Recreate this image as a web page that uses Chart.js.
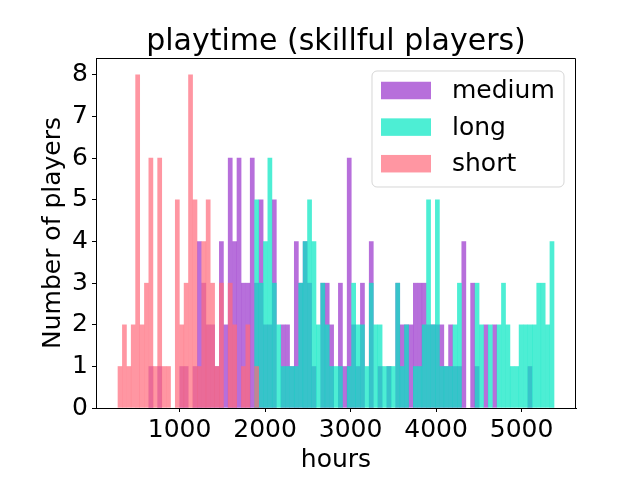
<!DOCTYPE html>
<html>
<head>
<meta charset="utf-8">
<script src="https://cdn.jsdelivr.net/npm/chart.js@4.4.0/dist/chart.umd.min.js"></script>
<style>
body { margin: 0; background: #fff; }
canvas { display: block; }
</style>
</head>
<body>
<canvas id="myChart" width="640" height="480"></canvas>
<script>
// shared histogram bins (hours)
const binStart = 278;
const binWidth = 51.55;

// counts per bin, each series starting at its first non-empty bin
const mediumFirstBin = 7;
const mediumCounts = [1, 0, 1, 0, 0, 0, 0, 1, 1, 0, 1, 4, 3, 2, 2, 1, 4, 2, 6, 4,
	6, 3, 3, 6, 3, 5, 2, 2, 5, 0, 2, 2, 1, 4, 3, 4, 3, 1, 0, 3,
	3, 2, 0, 3, 1, 6, 2, 1, 3, 0, 4, 0, 1, 0, 1, 0, 3, 2, 2, 2,
	3, 3, 3, 2, 2, 2, 2, 1, 2, 1, 1, 4, 0, 3, 1, 0, 2, 0, 2, 0,
	0, 0, 0, 0, 0, 0, 1];

const longFirstBin = 31;
const longCounts = [5, 3, 4, 6, 3, 2, 1, 1, 1, 1, 3, 4, 5, 4, 2, 3, 2, 1, 1, 1,
	0, 1, 3, 2, 2, 1, 3, 2, 2, 1, 1, 1, 3, 1, 2, 0, 1, 1, 2, 5,
	2, 5, 1, 1, 1, 2, 3, 0, 0, 0, 3, 2, 0, 2, 0, 2, 3, 2, 1, 1,
	2, 2, 2, 2, 3, 3, 2, 4];

const shortFirstBin = 0;
const shortCounts = [1, 2, 1, 2, 8, 2, 3, 6, 1, 6, 1, 1, 0, 5, 2, 3, 8, 5, 1, 4,
	5, 3, 1, 3, 0, 3, 2, 0, 1, 2, 0, 1];

const seriesNames = ["medium", "long", "short"];
const seriesColors = ["rgba(153, 50, 204, 0.7)", "rgba(2, 231, 194, 0.7)", "rgba(255, 105, 122, 0.7)"];

const xTicks = [1000, 2000, 3000, 4000, 5000];
const yTicks = [0, 1, 2, 3, 4, 5, 6, 7, 8];

const FONT = "DejaVu Sans";

function toPoints(firstBin, counts) {
	let pts = [];
	for (let i = 0; i < counts.length; i++) {
		if (counts[i] == 0)
			continue;
		pts.push({ x: binStart + (firstBin + i + 0.5) * binWidth, y: counts[i] });
	}
	return pts;
}

// x range with matplotlib's 5% margins
let lastBin = Math.max(mediumFirstBin + mediumCounts.length, longFirstBin + longCounts.length, shortFirstBin + shortCounts.length);
let dataMin = binStart;
let dataMax = binStart + lastBin * binWidth;
let pad = (dataMax - dataMin) * 0.05;

const decorations = {
	id: "decorations",
	afterDatasetsDraw(chart) {
		const ctx = chart.ctx;
		const a = chart.chartArea;
		ctx.save();

		// top and right spines
		ctx.strokeStyle = "#000";
		ctx.lineWidth = 1;
		ctx.beginPath();
		ctx.moveTo(Math.round(a.left) + 0.5, Math.round(a.top) + 0.5);
		ctx.lineTo(Math.round(a.right) - 0.5, Math.round(a.top) + 0.5);
		ctx.lineTo(Math.round(a.right) - 0.5, Math.round(a.bottom));
		ctx.stroke();

		// legend box
		let bx = 372, by = 71, bw = 192, bh = 116, r = 5;
		ctx.beginPath();
		ctx.moveTo(bx + r, by);
		ctx.arcTo(bx + bw, by, bx + bw, by + bh, r);
		ctx.arcTo(bx + bw, by + bh, bx, by + bh, r);
		ctx.arcTo(bx, by + bh, bx, by, r);
		ctx.arcTo(bx, by, bx + bw, by, r);
		ctx.closePath();
		ctx.fillStyle = "rgba(255, 255, 255, 0.8)";
		ctx.fill();
		ctx.strokeStyle = "rgba(204, 204, 204, 0.8)";
		ctx.stroke();

		ctx.font = "25px '" + FONT + "'";
		ctx.textAlign = "left";
		ctx.textBaseline = "middle";
		for (let i = 0; i < seriesNames.length; i++) {
			let cy = 90.5 + i * 36.6;
			ctx.fillStyle = seriesColors[i];
			ctx.fillRect(381, cy - 8.75, 50, 17.5);
			ctx.fillStyle = "#000";
			ctx.fillText(seriesNames[i], 452, cy + 1);
		}

		// title and axis labels
		ctx.textAlign = "center";
		ctx.textBaseline = "alphabetic";
		ctx.font = "30px '" + FONT + "'";
		ctx.fillText("playtime (skillful players)", (a.left + a.right) / 2, 50);
		ctx.font = "25px '" + FONT + "'";
		ctx.fillText("hours", (a.left + a.right) / 2, 467);
		ctx.translate(60, (a.top + a.bottom) / 2);
		ctx.rotate(-Math.PI / 2);
		ctx.fillText("Number of players", 0, 0);
		ctx.restore();
	}
};

const ctx = document.getElementById("myChart").getContext("2d");
const chart = new Chart(ctx, {
	type: "bar",
	data: {
		datasets: [
			{ label: seriesNames[0], data: toPoints(mediumFirstBin, mediumCounts), backgroundColor: seriesColors[0], order: 3 },
			{ label: seriesNames[1], data: toPoints(longFirstBin, longCounts), backgroundColor: seriesColors[1], order: 2 },
			{ label: seriesNames[2], data: toPoints(shortFirstBin, shortCounts), backgroundColor: seriesColors[2], order: 1 }
		]
	},
	options: {
		responsive: false,
		animation: false,
		devicePixelRatio: 1,
		grouped: false,
		barPercentage: 1,
		categoryPercentage: 1,
		borderWidth: 0,
		// slight overlap so neighbouring bins don't leave light seams
		inflateAmount: 0.15,
		layout: { padding: { top: 58, right: 64, left: 0, bottom: 0 } },
		plugins: {
			legend: { display: false },
			title: { display: false },
			tooltip: { enabled: false }
		},
		scales: {
			x: {
				type: "linear",
				offset: false,
				min: dataMin - pad,
				max: dataMax + pad,
				afterBuildTicks: (s) => { s.ticks = xTicks.map(v => ({ value: v })); },
				afterFit: (s) => { s.height = 72; },
				grid: { drawOnChartArea: false, drawTicks: true, tickLength: 4, tickColor: "#000", tickWidth: 1, offset: false },
				border: { display: true, color: "#000", width: 1 },
				ticks: { color: "#000", font: { family: FONT, size: 25 }, padding: 3, maxRotation: 0, autoSkip: false,
					callback: (v) => String(v) }
			},
			y: {
				min: 0,
				max: 8.4,
				afterBuildTicks: (s) => { s.ticks = yTicks.map(v => ({ value: v })); },
				afterFit: (s) => { s.width = 96; },
				grid: { drawOnChartArea: false, drawTicks: true, tickLength: 4, tickColor: "#000", tickWidth: 1 },
				border: { display: true, color: "#000", width: 1 },
				ticks: { color: "#000", font: { family: FONT, size: 25 }, padding: 4 }
			}
		}
	},
	plugins: [decorations]
});
</script>
</body>
</html>
